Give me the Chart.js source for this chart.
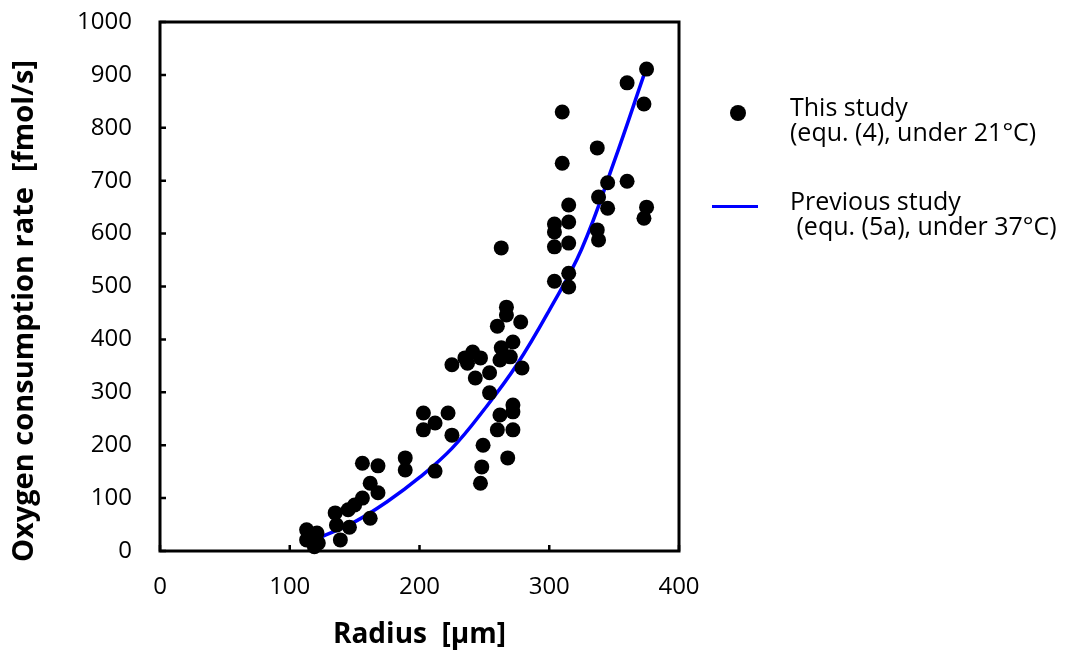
<!DOCTYPE html>
<html>
<head>
<meta charset="utf-8">
<script src="https://cdn.jsdelivr.net/npm/chart.js@4"></script>
<style>
  html, body { margin: 0; padding: 0; background: #fff; }
  #wrap { position: relative; width: 1076px; height: 656px; }
  #legend { position: absolute; left: 0; top: 0; font-family: "Open Sans", sans-serif; font-size: 25px; color: #000; }
  .item { position: absolute; left: 790px; line-height: 25px; white-space: pre; }
  .dot { position: absolute; width: 16px; height: 16px; border-radius: 50%; background: #000; }
  .line { position: absolute; height: 3px; background: #0000ff; }
</style>
</head>
<body>
<div id="wrap">
  <canvas id="chart" width="1076" height="656"></canvas>
  <div id="legend">
    <div class="dot" style="left:730px; top:105px;"></div>
    <div class="item" style="top:94px;">This study
(equ. (4), under 21°C)</div>
    <div class="line" style="left:712px; top:205px; width:46px;"></div>
    <div class="item" style="top:188px;">Previous study
 (equ. (5a), under 37°C)</div>
  </div>
</div>
<script>
// measured points (radius in um, rate in fmol/s)
const radius = [113, 121, 113, 122, 119,
  135, 136, 139, 145, 146, 150, 156, 156, 162, 162, 168, 168,
  189, 189, 203, 203, 212, 212, 222, 225, 225,
  235, 237, 241, 243, 247, 247, 248, 249, 254, 254,
  260, 262, 263, 263, 262, 260, 267, 267, 270, 272, 272, 272, 272, 268, 278, 279,
  304, 304, 304, 304, 310, 310, 315, 315, 315, 315, 315,
  337, 338, 337, 338, 345, 345, 360, 360, 373, 375, 375, 373];
const rate = [40, 34, 21, 15, 8,
  72, 49, 21, 78, 45, 87, 100, 166, 128, 62, 161, 110,
  176, 153, 261, 229, 242, 151, 261, 219, 352,
  365, 355, 376, 327, 365, 128, 159, 200, 337, 299,
  425, 361, 384, 573, 257, 229, 461, 446, 367, 395, 276, 263, 229, 176, 433, 346,
  618, 603, 575, 510, 830, 733, 654, 622, 582, 525, 499,
  762, 669, 607, 588, 696, 648, 699, 885, 845, 911, 650, 629];

// previous study curve
const prevRadius = [120, 150, 175, 200, 225, 250, 275, 300, 325, 350, 373];
const prevRate = [22, 55, 93, 139, 194, 268, 352, 455, 571, 736, 900];

const xTicks = [0, 100, 200, 300, 400];
const yTicks = [0, 100, 200, 300, 400, 500, 600, 700, 800, 900, 1000];

const FONT = '"Open Sans", sans-serif';
const yTitle = 'Oxygen consumption rate  [fmol/s]';

// box frame + inward ticks + y title
const framePlugin = {
  id: 'frame',
  afterDraw(chart) {
    const { ctx, chartArea: a, scales } = chart;
    ctx.save();
    ctx.strokeStyle = '#000';
    ctx.lineWidth = 3;
    ctx.strokeRect(a.left, a.top, a.right - a.left, a.bottom - a.top);
    ctx.lineWidth = 2.5;
    ctx.beginPath();
    xTicks.forEach(v => {
      const px = scales.x.getPixelForValue(v);
      ctx.moveTo(px, a.bottom);
      ctx.lineTo(px, a.bottom - 6);
    });
    yTicks.forEach(v => {
      const py = scales.y.getPixelForValue(v);
      ctx.moveTo(a.left, py);
      ctx.lineTo(a.left + 6, py);
    });
    ctx.stroke();

    // y title, a bit below the axis centre as in the original
    ctx.translate(25, 311);
    ctx.rotate(-Math.PI / 2);
    ctx.fillStyle = '#000';
    ctx.font = 'bold 29px ' + FONT;
    ctx.textAlign = 'center';
    ctx.textBaseline = 'middle';
    ctx.fillText(yTitle, 0, 0);
    ctx.restore();
  }
};

const ctx = document.getElementById('chart').getContext('2d');
const chart = new Chart(ctx, {
  type: 'scatter',
  data: {
    datasets: [{
      label: 'This study',
      data: radius.map((r, i) => ({ x: r, y: rate[i] })),
      backgroundColor: '#000',
      borderWidth: 0,
      pointRadius: 7.5,
      clip: false,
      order: 1
    }, {
      label: 'Previous study',
      type: 'line',
      data: prevRadius.map((r, i) => ({ x: r, y: prevRate[i] })),
      borderColor: '#0000ff',
      borderWidth: 3.5,
      pointRadius: 0,
      tension: 0.4,
      fill: false,
      order: 2
    }]
  },
  options: {
    responsive: false,
    animation: false,
    layout: { padding: { top: 22, right: 397, bottom: 0, left: 0 } },
    plugins: { legend: { display: false }, tooltip: { enabled: false } },
    scales: {
      x: {
        type: 'linear', min: 0, max: 400,
        afterBuildTicks: s => { s.ticks = xTicks.map(v => ({ value: v })); },
        afterFit: s => { s.height = 105; s.paddingLeft = 0; s.paddingRight = 0; },
        grid: { display: false },
        border: { display: false },
        ticks: { color: '#000', font: { family: FONT, size: 24 }, padding: 14, callback: v => String(v) },
        title: { display: true, text: 'Radius  [μm]', color: '#000', font: { family: FONT, size: 28, weight: 'bold' }, padding: { top: 14 } }
      },
      y: {
        type: 'linear', min: 0, max: 1000,
        afterBuildTicks: s => { s.ticks = yTicks.map(v => ({ value: v })); },
        afterFit: s => { s.width = 160; s.paddingTop = 0; s.paddingBottom = 0; },
        grid: { display: false },
        border: { display: false },
        ticks: { color: '#000', font: { family: FONT, size: 24 }, padding: 20, callback: v => String(v) }
      }
    }
  },
  plugins: [framePlugin]
});
</script>
</body>
</html>
